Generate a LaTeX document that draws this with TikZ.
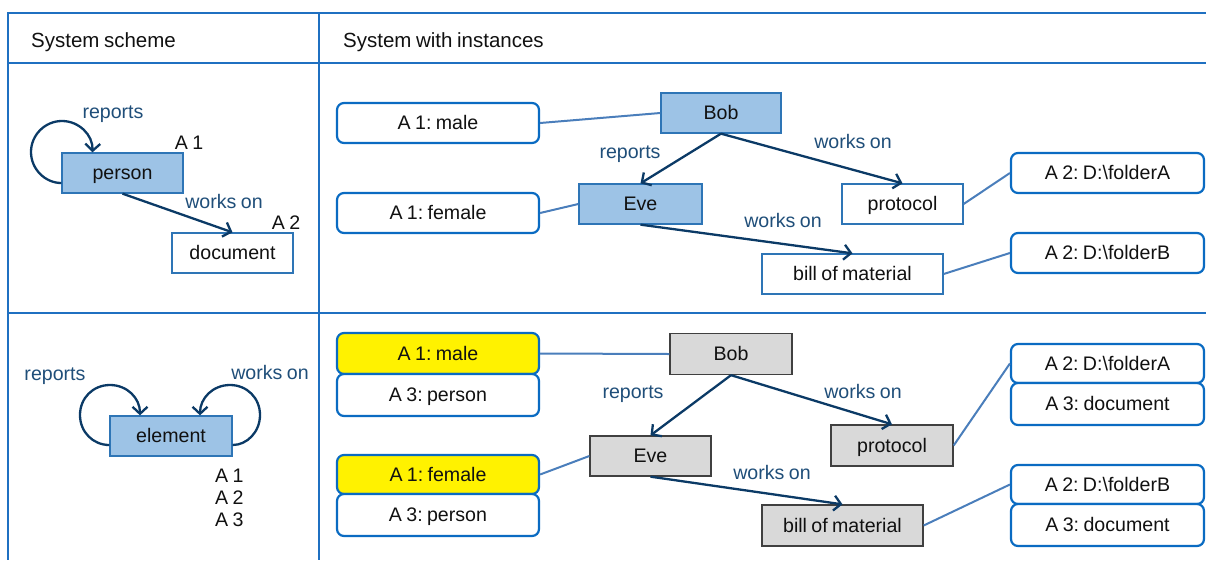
\documentclass[tikz,border=0pt]{standalone}
\usepackage{fontspec}
\setmainfont{Liberation Sans}[WordSpace=0.8]
\frenchspacing
\usetikzlibrary{arrows.meta}
\definecolor{frameblue}{HTML}{1F70C1}
\definecolor{lightblue}{HTML}{9DC3E6}
\definecolor{boxblue}{HTML}{2E75B6}
\definecolor{attrblue}{HTML}{0A6BC2}
\definecolor{arrowdark}{HTML}{0B3A66}
\definecolor{labelblue}{HTML}{1F4E79}
\definecolor{linkblue}{HTML}{4A7EBB}
\definecolor{graylight}{HTML}{D9D9D9}
\definecolor{grayedge}{HTML}{404040}
\definecolor{textblack}{HTML}{111111}
\tikzset{
  base/.style={font=\fontsize{19.6}{22}\selectfont\frenchspacing, inner sep=0pt, text=textblack, text height=13.8pt, text depth=0pt},
  headtext/.style={base, font=\fontsize{20.5}{24}\selectfont\frenchspacing, anchor=west},
  bluebox/.style={base, draw=boxblue, fill=lightblue, line width=1.3pt, minimum height=40pt},
  whitebox/.style={base, draw=boxblue, fill=white, line width=1.3pt, minimum height=40pt},
  graybox/.style={base, draw=grayedge, fill=graylight, line width=1.3pt, minimum height=41pt},
  attr/.style={base, draw=attrblue, fill=white, rounded corners=7pt, line width=2.2pt, minimum width=202pt, minimum height=40pt},
  yattr/.style={attr, fill=yellow},
  farattr/.style={attr, minimum width=193pt},
  rel/.style={draw=arrowdark, line width=2.3pt, -{Straight Barb[length=7pt,width=15pt]}},
  rellabel/.style={base, text=labelblue},
  link/.style={draw=linkblue, line width=2pt},
  tabline/.style={draw=frameblue, line width=1.5pt},
}
\begin{document}
\begin{tikzpicture}[x=1pt,y=-1pt]
\useasboundingbox (0,0) rectangle (1206,560);
% table frame
\draw[tabline] (1206,13) -- (8,13) -- (8,560);
\draw[tabline] (8,63) -- (1206,63);
\draw[tabline] (8,313) -- (1206,313);
\draw[tabline] (319,13) -- (319,560);
\node[headtext] (h1) at (31,41) {System scheme};
\node[headtext] (h2) at (343,41) {System with instances};

% ---------- top left: scheme ----------
\node[bluebox, minimum width=121pt] (person) at (122.5,173) {person};
\node[whitebox, minimum width=121pt] (document) at (232.5,253) {document};
\node[base] (a1s) at (189,143) {A 1};
\node[base] (a2s) at (286,223) {A 2};
\node[rellabel] (rep0) at (113,112) {reports};
\node[rellabel] (wo0) at (224,202) {works on};
\draw[rel] ([yshift=-10pt]person.west) .. controls (45,183) and (31,169) .. (31,152)
  .. controls (31,135) and (45,121) .. (62,121)
  .. controls (79,121) and (93,135) .. ([xshift=-30pt]person.north);
\draw[rel] (person.south) -- (document.north);

% ---------- bottom left: scheme ----------
\node[bluebox, minimum width=122pt] (element) at (171,436) {element};
\node[rellabel] (rep3) at (55,374) {reports};
\node[rellabel] (wo3) at (270,373) {works on};
\node[base, anchor=west] (e1) at (215,476) {A 1};
\node[base, anchor=west] (e2) at (215,498) {A 2};
\node[base, anchor=west] (e3) at (215,520) {A 3};
\draw[rel] ([yshift=-9pt]element.west) .. controls (93,445) and (80,432) .. (80,415)
  .. controls (80,398) and (93,385) .. (110,385)
  .. controls (127,385) and (140,398) .. ([xshift=-31pt]element.north);
\draw[rel] ([yshift=-9pt]element.east) .. controls (247,445) and (260,432) .. (260,415)
  .. controls (260,398) and (247,385) .. (230,385)
  .. controls (213,385) and (200,398) .. ([xshift=29pt]element.north);

% ---------- top right: instances ----------
\node[attr] (m1) at (438,123) {A 1: male};
\node[attr] (f1) at (438,213) {A 1: female};
\node[bluebox, minimum width=120pt] (bob1) at (721,113) {Bob};
\node[bluebox, minimum width=123pt] (eve1) at (640.5,204) {Eve};
\node[whitebox, minimum width=121pt] (prot1) at (902.5,204) {protocol};
\node[whitebox, minimum width=181pt] (bill1) at (852.5,274) {bill of material};
\node[farattr] (fa1) at (1107.5,173) {A 2: D:\textbackslash folderA};
\node[farattr] (fb1) at (1107.5,253) {A 2: D:\textbackslash folderB};
\node[rellabel] (rep1) at (630,152) {reports};
\node[rellabel] (wo1) at (853,142) {works on};
\node[rellabel] (wo2) at (783,221) {works on};
\draw[link] (m1.east) -- (bob1.west);
\draw[link] (f1.east) -- (eve1.west);
\draw[link] (prot1.east) -- (fa1.west);
\draw[link] (bill1.east) -- (fb1.west);
\draw[rel] (bob1.south) -- (eve1.north);
\draw[rel] (bob1.south) -- (prot1.north);
\draw[rel] (eve1.south) -- (bill1.north);

% ---------- bottom right: instances ----------
\node[yattr, minimum height=41pt] (m2) at (438,353.5) {A 1: male};
\node[attr, minimum height=42pt] (p2) at (438,395) {A 3: person};
\node[yattr, minimum height=39pt] (f2) at (438,474.5) {A 1: female};
\node[attr, minimum height=42pt] (p3) at (438,515) {A 3: person};
\node[graybox, minimum width=122pt] (bob2) at (731,354) {Bob};
\node[graybox, minimum width=121pt, minimum height=40pt] (eve2) at (650.5,456) {Eve};
\node[graybox, minimum width=122pt] (prot2) at (892,445.5) {protocol};
\node[graybox, minimum width=161pt] (bill2) at (842.5,525.5) {bill of material};
\node[farattr, minimum height=39pt] (fa2) at (1107.5,363.5) {A 2: D:\textbackslash folderA};
\node[farattr, minimum height=42pt] (da2) at (1107.5,404) {A 3: document};
\node[farattr, minimum height=39pt] (fb2) at (1107.5,484.5) {A 2: D:\textbackslash folderB};
\node[farattr, minimum height=42pt] (db2) at (1107.5,525) {A 3: document};
\node[rellabel] (rep2) at (633,392) {reports};
\node[rellabel] (wo4) at (863,392) {works on};
\node[rellabel] (wo5) at (772,473) {works on};
\draw[link] (m2.east) -- (bob2.west);
\draw[link] (f2.east) -- (eve2.west);
\draw[link] (prot2.east) -- (fa2.west);
\draw[link] (bill2.east) -- (fb2.west);
\draw[rel] (bob2.south) -- (eve2.north);
\draw[rel] (bob2.south) -- (prot2.north);
\draw[rel] (eve2.south) -- (bill2.north);
\end{tikzpicture}
\end{document}
